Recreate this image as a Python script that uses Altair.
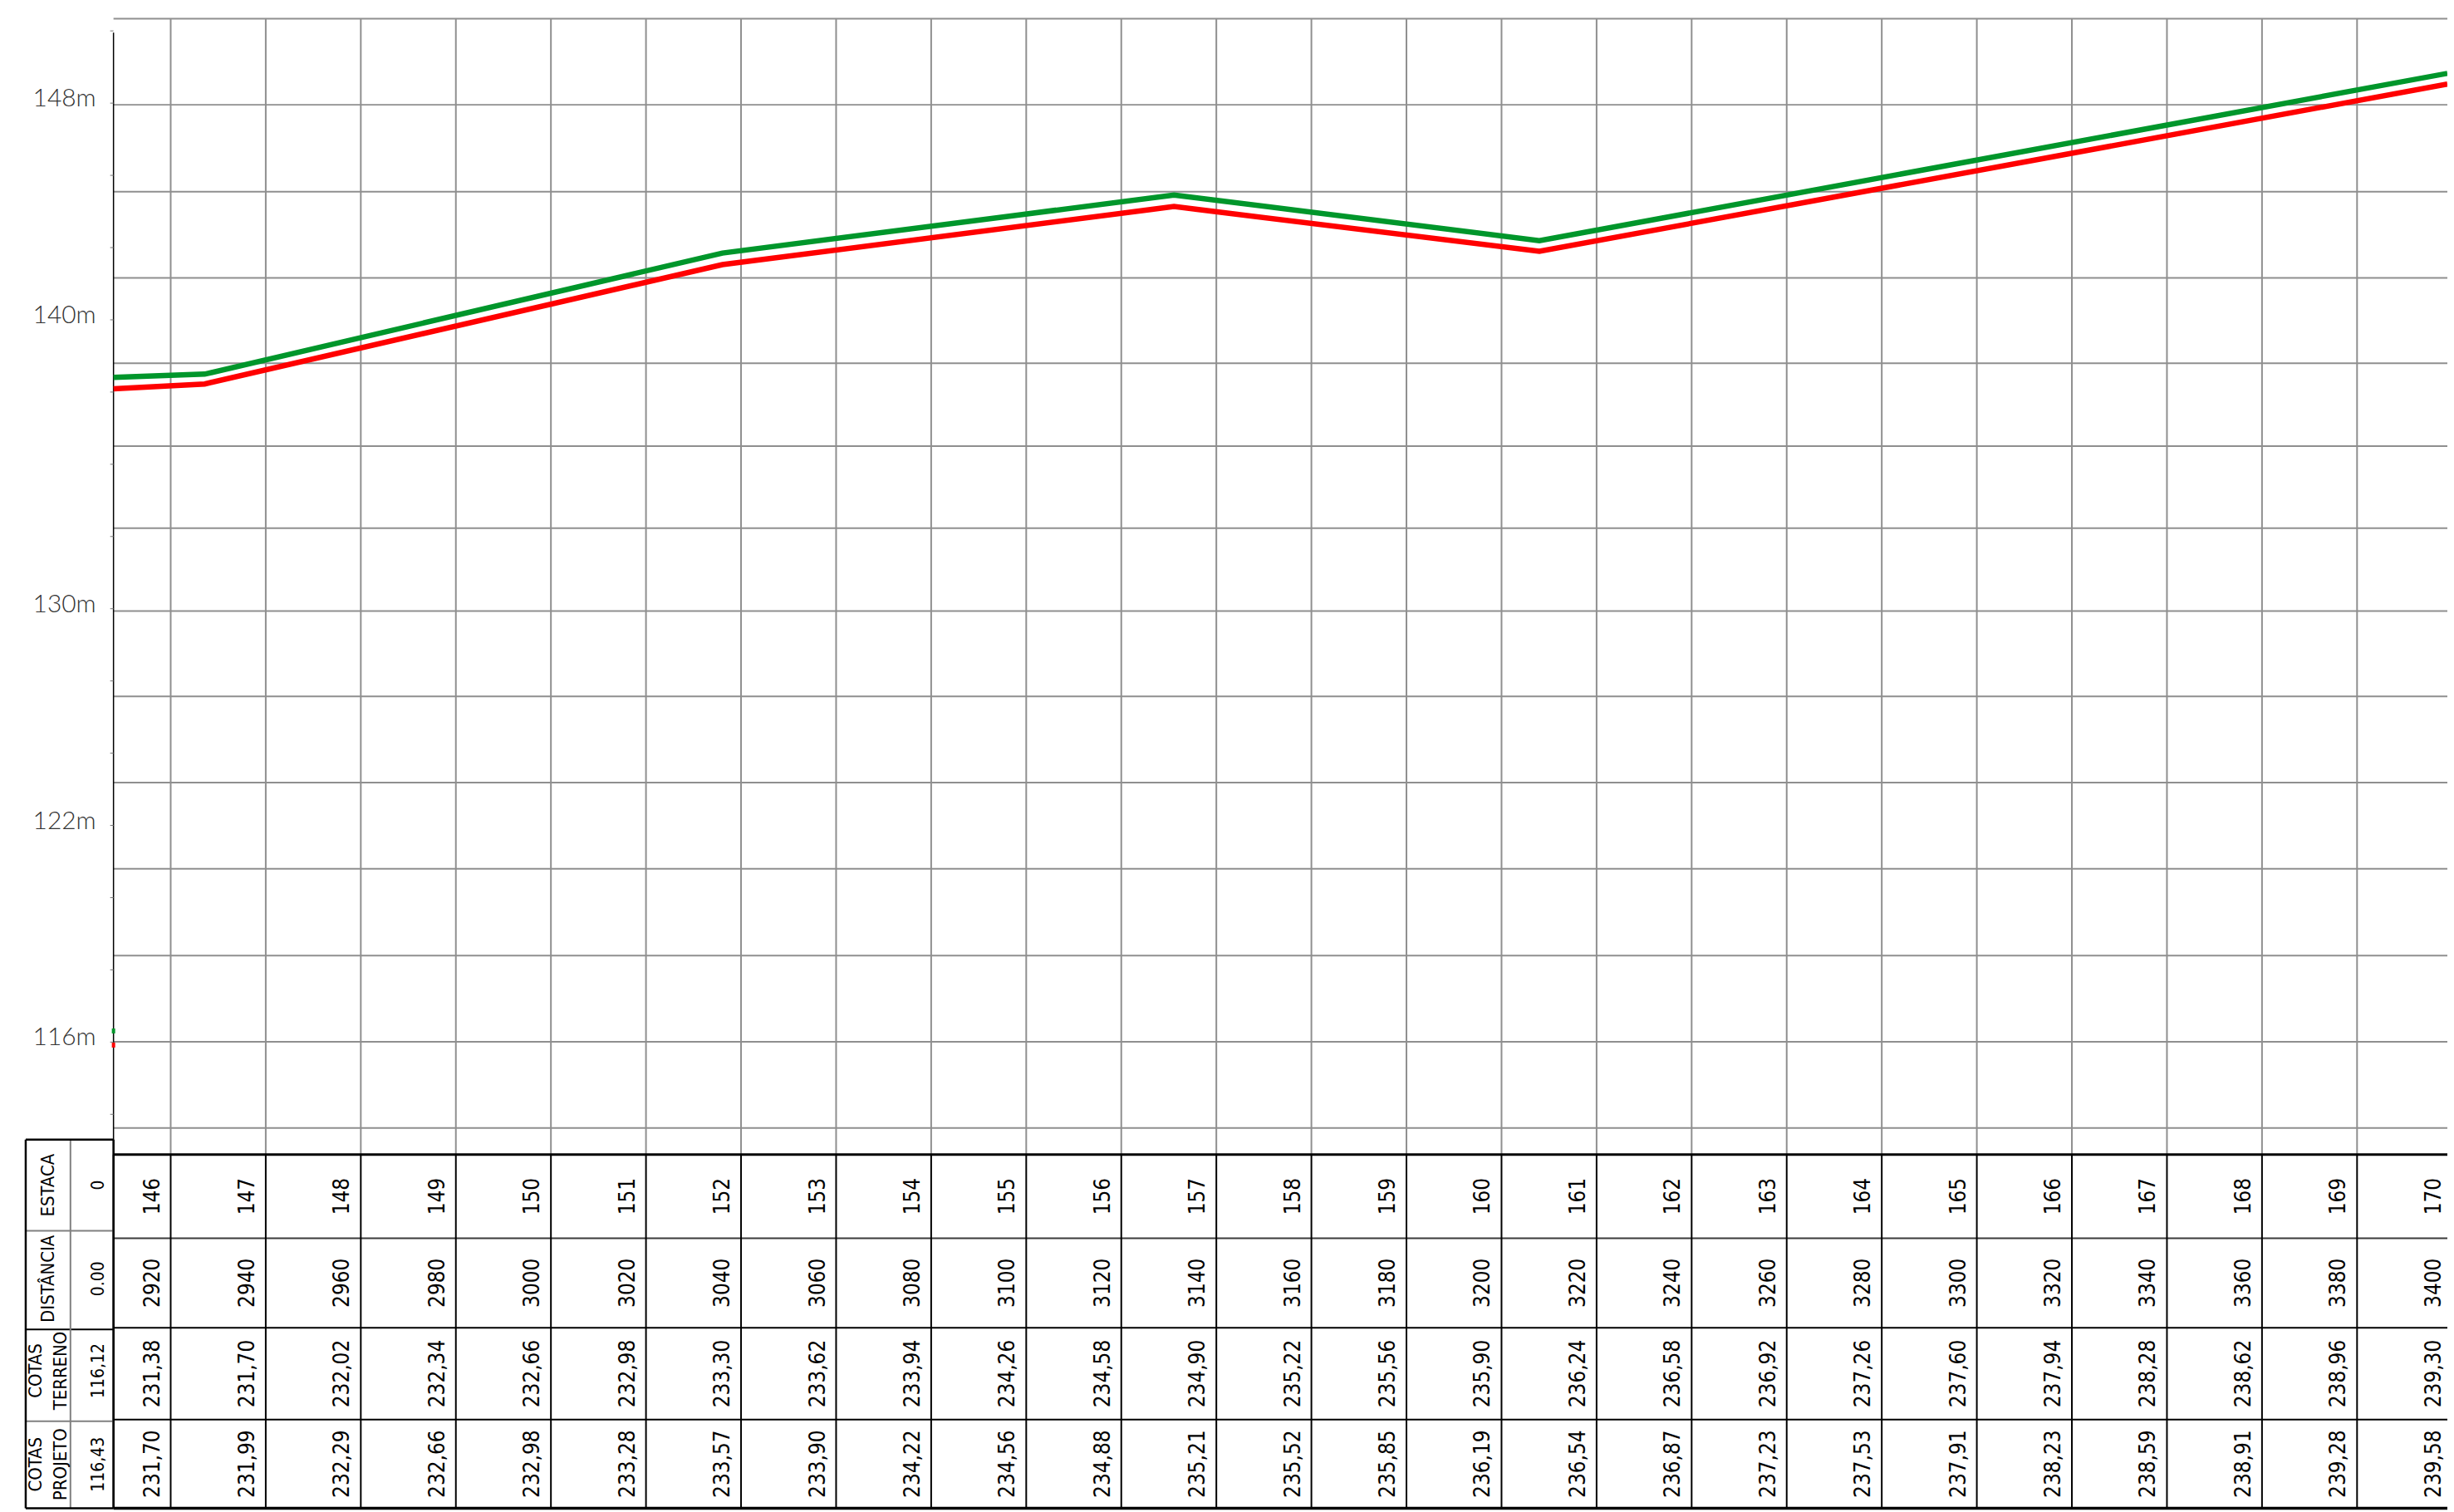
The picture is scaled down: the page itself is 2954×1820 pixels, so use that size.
import altair as alt
import pandas as pd

# ---------------- table values ----------------
estaca = list(range(146, 171))
distancia = list(range(2920, 3401, 20))
cotas_terreno = [231.38, 231.70, 232.02, 232.34, 232.66, 232.98, 233.30, 233.62, 233.94,
                 234.26, 234.58, 234.90, 235.22, 235.56, 235.90, 236.24, 236.58, 236.92,
                 237.26, 237.60, 237.94, 238.28, 238.62, 238.96, 239.30]
cotas_projeto = [231.70, 231.99, 232.29, 232.66, 232.98, 233.28, 233.57, 233.90, 234.22,
                 234.56, 234.88, 235.21, 235.52, 235.85, 236.19, 236.54, 236.87, 237.23,
                 237.53, 237.91, 238.23, 238.59, 238.91, 239.28, 239.58]
header_names = ["ESTACA", "DISTÂNCIA", "COTAS\nTERRENO", "COTAS\nPROJETO"]
header_values = ["0", "0.00", "116,12", "116,43"]

# ---------------- profile lines ----------------
perfil_dist = [2907.97, 2927.15, 3036.09, 3131.09, 3207.96, 3399.0]
perfil_projeto = [138.51, 138.62, 142.81, 144.82, 143.24, 149.03]   # green
perfil_terreno = [138.11, 138.28, 142.41, 144.42, 142.87, 148.66]   # red
inicio_projeto = [115.97, 115.80]
inicio_terreno = [115.48, 115.31]

# ---------------- elevation axis ----------------
y_tick_text = ["148m", "140m", "130m", "122m", "116m"]
y_tick_elev = [148.0, 140.5, 130.5, 123.0, 115.5]
y_minor_ticks = [150.5 - 2.5 * i for i in range(16)]
grid_elev = [150.925, 147.943, 144.931, 141.949, 138.995, 136.127, 133.288,
             130.420, 127.467, 124.484, 121.501, 118.490, 115.508, 112.525]

# ---------------- drawing frame ----------------
W, H = 2946, 1812
X_DOM = [2885.487, 3398.996]
E_DOM = [99.305, 151.269]
R_DOM = [-12.956, 4.019]
X_AXIS = 2907.97
X_HEAD_L = 2889.50
X_HEAD_M = 2898.91
X_RIGHT = 3398.996
E_AXIS_TOP = 150.44
E_TABLE_TOP = 111.608
ROW_EDGES = [0.0, 0.946, 1.958, 2.998, 4.0]
HEAD_EDGES = [-0.169, 0.862, 1.977, 3.016, 4.0]

GRID = "#8f8f8f"
TFONT = "DejaVu Sans Condensed, DejaVu Sans"
GREEN = "#00962b"
RED = "#ff0000"

xs = alt.Scale(domain=X_DOM, nice=False, zero=False)
es = alt.Scale(domain=E_DOM, nice=False, zero=False)
rs = alt.Scale(domain=R_DOM, nice=False, zero=False, reverse=True)


def X(f):
    return alt.X(f, type="quantitative", scale=xs, axis=None)


def E(f):
    return alt.Y(f, type="quantitative", scale=es, axis=None)


def R(f):
    return alt.Y(f, type="quantitative", scale=rs, axis=None)


# ---------- plot part ----------
hgrid = alt.Chart(pd.DataFrame({"e": grid_elev, "x0": X_AXIS, "x1": X_RIGHT})).mark_rule(
    color=GRID, strokeWidth=2).encode(x=X("x0"), x2="x1", y=E("e"))

vgrid = alt.Chart(pd.DataFrame({"d": distancia, "e0": grid_elev[0], "e1": E_TABLE_TOP})).mark_rule(
    color=GRID, strokeWidth=2).encode(x=X("d"), y=E("e0"), y2="e1")

axis_line = alt.Chart(pd.DataFrame({"d": [X_AXIS], "e0": [E_AXIS_TOP], "e1": [E_TABLE_TOP]})).mark_rule(
    color="black", strokeWidth=1.5).encode(x=X("d"), y=E("e0"), y2="e1")

ticks = alt.Chart(pd.DataFrame({"e": y_minor_ticks, "x0": X_AXIS - 0.7, "x1": X_AXIS})).mark_rule(
    color="#777777", strokeWidth=1).encode(x=X("x0"), x2="x1", y=E("e"))

ylabels = alt.Chart(pd.DataFrame({"e": y_tick_elev, "t": y_tick_text, "d": X_AXIS})).mark_text(
    align="right", baseline="middle", dx=-21, dy=-5, font="Lato", fontWeight=300,
    fontSize=30, color="#333333").encode(x=X("d"), y=E("e"), text="t:N")


def stub(vals, col):
    return alt.Chart(pd.DataFrame({"d": [X_AXIS], "e0": [vals[0]], "e1": [vals[1]]})).mark_rule(
        strokeWidth=4, color=col).encode(x=X("d"), y=E("e0"), y2="e1")


def perfil(vals, col):
    return alt.Chart(pd.DataFrame({"d": perfil_dist, "e": vals})).mark_line(
        strokeWidth=6.5, clip=True, color=col).encode(x=X("d"), y=E("e"))


# ---------- table part ----------
row_centers = [(a + b) / 2 for a, b in zip(ROW_EDGES[:-1], ROW_EDGES[1:])]
head_centers = [0.347, 1.405, 2.445, 3.504]


def hline(rows, x0, x1, col, w):
    return alt.Chart(pd.DataFrame({"r": rows, "x0": x0, "x1": x1})).mark_rule(
        color=col, strokeWidth=w).encode(x=X("x0"), x2="x1", y=R("r"))


def vline(ds, r0, r1, col, w):
    return alt.Chart(pd.DataFrame({"d": ds, "r0": r0, "r1": r1})).mark_rule(
        color=col, strokeWidth=w).encode(x=X("d"), y=R("r0"), y2="r1")


table_lines = [
    hline([ROW_EDGES[0]], X_AXIS, X_RIGHT, "black", 3),
    hline([ROW_EDGES[1]], X_AXIS, X_RIGHT, "#3a3a3a", 2),
    hline(ROW_EDGES[2:4], X_AXIS, X_RIGHT, "black", 2),
    hline([ROW_EDGES[4]], X_AXIS, X_RIGHT, "black", 3.5),
    vline([X_AXIS] + distancia, 0.0, 4.0, "black", 2),
    hline([HEAD_EDGES[1], HEAD_EDGES[3]], X_HEAD_L, X_AXIS, "#808080", 2),
    hline([HEAD_EDGES[2]], X_HEAD_L, X_AXIS, "black", 2),
    vline([X_HEAD_M], HEAD_EDGES[0], HEAD_EDGES[-1], "#808080", 2),
    hline([HEAD_EDGES[0], HEAD_EDGES[-1]], X_HEAD_L, X_AXIS, "black", 2.5),
    vline([X_HEAD_L, X_AXIS], HEAD_EDGES[0], HEAD_EDGES[-1], "black", 2.5),
]

cells = []
for i in range(len(estaca)):
    vals = [str(estaca[i]), str(distancia[i]),
            f"{cotas_terreno[i]:.2f}".replace(".", ","),
            f"{cotas_projeto[i]:.2f}".replace(".", ",")]
    for k in range(4):
        cells.append({"d": distancia[i], "r": row_centers[k], "t": vals[k]})
cell_text = alt.Chart(pd.DataFrame(cells)).mark_text(
    angle=270, align="center", baseline="middle", dy=-22, font=TFONT, fontSize=26,
    color="black").encode(x=X("d"), y=R("r"), text="t:N")

X_HEAD_C = (X_HEAD_L + X_HEAD_M) / 2
names_df = pd.DataFrame({"d": X_HEAD_C, "r": head_centers, "t": header_names})
names_df["n"] = names_df["t"].str.count("\n")

head_names_1 = alt.Chart(names_df[names_df["n"] == 0]).mark_text(
    angle=270, align="center", baseline="middle",
    font=TFONT, fontSize=22, color="black").encode(x=X("d"), y=R("r"), text="t:N")

head_names_2 = alt.Chart(names_df[names_df["n"] == 1]).mark_text(
    angle=270, align="center", baseline="middle", lineBreak="\n", lineHeight=30, dy=-15,
    font=TFONT, fontSize=22, color="black").encode(x=X("d"), y=R("r"), text="t:N")

head_vals = alt.Chart(pd.DataFrame({"d": X_AXIS, "r": head_centers, "t": header_values})).mark_text(
    angle=270, align="center", baseline="middle", dy=-18, font=TFONT, fontSize=21,
    color="black").encode(x=X("d"), y=R("r"), text="t:N")

chart = alt.layer(
    hgrid, vgrid, axis_line, ticks, ylabels,
    stub(inicio_projeto, GREEN), stub(inicio_terreno, RED),
    perfil(perfil_terreno, RED), perfil(perfil_projeto, GREEN),
    *table_lines,
    cell_text, head_names_1, head_names_2, head_vals,
).resolve_scale(y="independent").properties(
    width=W, height=H, padding=0, autosize="none", background="white"
).configure_view(stroke=None)

chart.save("out.html", embed_options={"renderer": "svg", "actions": False})
